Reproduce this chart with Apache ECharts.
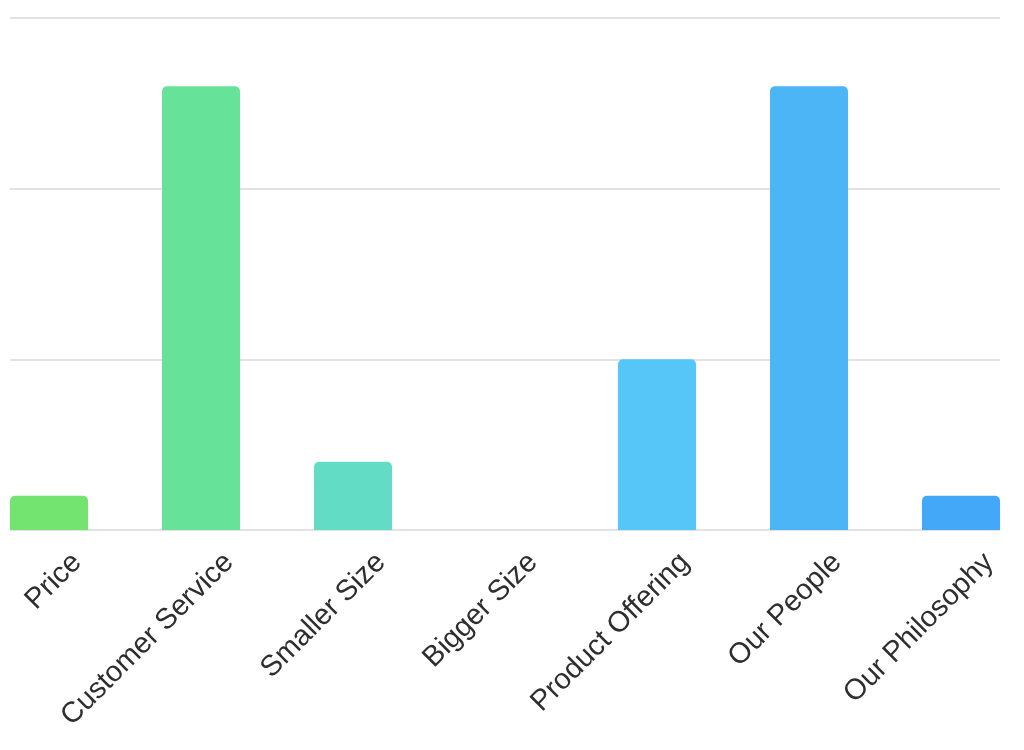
<!DOCTYPE html>
<html>
<head>
<meta charset="utf-8">
<script src="https://cdn.jsdelivr.net/npm/echarts@6/dist/echarts.min.js"></script>
<style>
html,body{margin:0;padding:0;background:#fff;}
#chart{width:1024px;height:750px;}
</style>
</head>
<body>
<div id="chart"></div>
<script>
var categories = ['Price', 'Customer Service', 'Smaller Size', 'Bigger Size', 'Product Offering', 'Our People', 'Our Philosophy'];
var values = [1, 13, 2, 0, 5, 13, 1];
var barColors = ['#72e46f', '#66e299', '#62dcc4', '#5bd1e0', '#55c6f7', '#4bb5f6', '#44a8f8'];
var yTicks = [0, 5, 10, 15];

var chart = echarts.init(document.getElementById('chart'), null, {renderer: 'canvas'});
var yMin = yTicks[0], yMax = yTicks[yTicks.length - 1], yStep = yTicks[1] - yTicks[0];
var gridTop = 18, gridBottom = 220;

var option = {
  backgroundColor: '#ffffff',
  animation: false,
  grid: [
    {left: -27, right: -13, top: gridTop, bottom: gridBottom, outerBoundsMode: 'none'},
    {left: 10, right: 24, top: gridTop, bottom: gridBottom, outerBoundsMode: 'none'},
    {left: 1, right: -41, top: gridTop, bottom: gridBottom, outerBoundsMode: 'none'}
  ],
  xAxis: [
    {gridIndex: 0, type: 'category', data: categories, show: false},
    {gridIndex: 1, type: 'category', data: categories, show: false},
    {gridIndex: 2, type: 'category', data: categories,
      axisLine: {show: false}, axisTick: {show: false}, splitLine: {show: false},
      axisLabel: {show: true, interval: 0, rotate: 45, margin: 28,
        fontFamily: 'Liberation Sans, Arial, sans-serif', fontSize: 29, color: '#2e2e2e'}}
  ],
  yAxis: [
    {gridIndex: 0, type: 'value', min: yMin, max: yMax, interval: yStep, show: false},
    {gridIndex: 1, type: 'value', min: yMin, max: yMax, interval: yStep,
      axisLabel: {show: false}, axisLine: {show: false}, axisTick: {show: false},
      splitLine: {show: true, lineStyle: {color: '#e2e2e2', width: 2}}},
    {gridIndex: 2, type: 'value', min: yMin, max: yMax, interval: yStep, show: false}
  ],
  series: [{
    type: 'bar',
    xAxisIndex: 0, yAxisIndex: 0,
    barWidth: 78,
    data: values.map(function (v, i) {
      return {value: v, itemStyle: {color: barColors[i], borderRadius: [5, 5, 0, 0]}};
    })
  }]
};
chart.setOption(option);
</script>
</body>
</html>
